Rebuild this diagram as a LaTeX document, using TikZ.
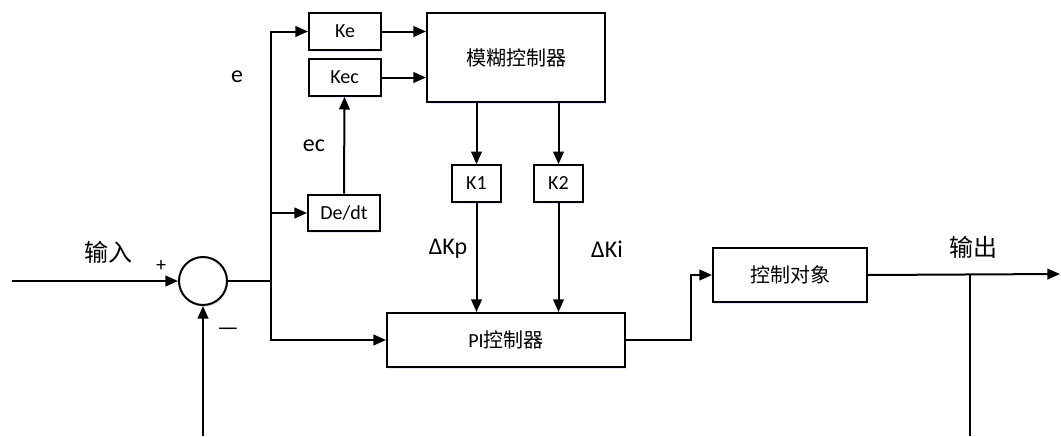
\documentclass[tikz,border=0pt]{standalone}
\usepackage{fontspec}
\setmainfont{Carlito}
\newfontfamily\cjk{Noto Sans CJK SC}
\usepackage{tikz}
\usetikzlibrary{positioning, arrows.meta, shadows}

\begin{document}
\begin{tikzpicture}[
      x=0.75pt, y=-0.75pt,
      every node/.style={font=\fontsize{15}{18}\selectfont},
      box/.style={draw, line width=1.5pt, fill=white, inner sep=2pt,
                  drop shadow={shadow xshift=1pt, shadow yshift=-1.5pt,
                               fill=blue!25, opacity=0.35}},
      gain/.style={box, minimum width=54pt, minimum height=27.5pt},
      kbox/.style={box, minimum width=36.75pt, minimum height=27.5pt},
      sumnode/.style={circle, draw, line width=1.5pt, fill=white,
                      minimum size=36pt, inner sep=0pt,
                      drop shadow={shadow xshift=1pt, shadow yshift=-1.5pt,
                                   fill=blue!25, opacity=0.35}},
      lbl/.style={font=\fontsize{18}{21}\selectfont},
      arr/.style={-{Triangle[length=9.5pt, width=8pt]}, line width=1.5pt},
      line/.style={line width=1.5pt},
    ]
    \useasboundingbox (0,0) rectangle (1061,436);

    %% Summing point and input
    \node[sumnode] (sum) at (203,281) {};
    \coordinate (in) at (12,281);
    \coordinate (split) at (271,281);
    \coordinate (fb) at (203,436);
    \node[lbl] (inlbl) at (108,252) {\cjk 输入};
    \node (plus) at (161,266) {+};
    \node[lbl] (minus) at (228,332) {—};

    %% Gain blocks in front of the fuzzy controller
    \node[gain] (ke)   at (345,31.5)  {Ke};
    \node[gain] (kec)  at (344.5,77.5) {Kec};
    \node[gain] (dedt) at (344,213)   {De/dt};
    \node[lbl] (elbl)  at (237,77)  {e};
    \node[lbl] (eclbl) at (314,146) {ec};

    %% Fuzzy controller and output gains
    \node[box, minimum width=133.5pt, minimum height=66.75pt] (fuzzy) at (516,57.5) {\cjk 模糊控制器};
    \node[kbox] (k1) at (476.5,183.5) {K1};
    \node[kbox] (k2) at (558.5,183.5) {K2};
    \node[lbl] (kplbl) at (448,249) {ΔKp};
    \node[lbl] (kilbl) at (607,249) {ΔKi};

    %% PI controller and plant
    \node[box, minimum width=178.5pt, minimum height=40.5pt] (pi) at (506,340) {PI\cjk 控制器};
    \node[box, minimum width=115.5pt, minimum height=40.5pt] (plant) at (790,275) {\cjk 控制对象};
    \node[lbl] (outlbl) at (973,247) {\cjk 输出};
    \coordinate (out) at (1060,274);
    \coordinate (tap) at (970,274.5);
    \coordinate (fbr) at (970,436);

    %% Connectors
    \draw[arr] (in) -- (sum.west);
    \draw[line] (sum.east) -- (split);
    \draw[arr] (split) |- (ke.west);
    \draw[arr] (split |- dedt.west) -- (dedt.west);
    \draw[arr] (split) |- (pi.west);
    \draw[arr] (dedt.north) -- (kec.south);
    \draw[arr] (ke.east) -- (ke.east -| fuzzy.west);
    \draw[arr] (kec.east) -- (kec.east -| fuzzy.west);
    \draw[arr] (fuzzy.south -| k1.north) -- (k1.north);
    \draw[arr] (fuzzy.south -| k2.north) -- (k2.north);
    \draw[arr] (k1.south) -- (k1.south |- pi.north);
    \draw[arr] (k2.south) -- (k2.south |- pi.north);
    \draw[arr] (pi.east) -- ++(65,0) |- (plant.west);
    \draw[arr] (plant.east) -- (out);
    \draw[line] (tap) -- (fbr);
    \draw[arr] (fb) -- (sum.south);
  \end{tikzpicture}
\end{document}
